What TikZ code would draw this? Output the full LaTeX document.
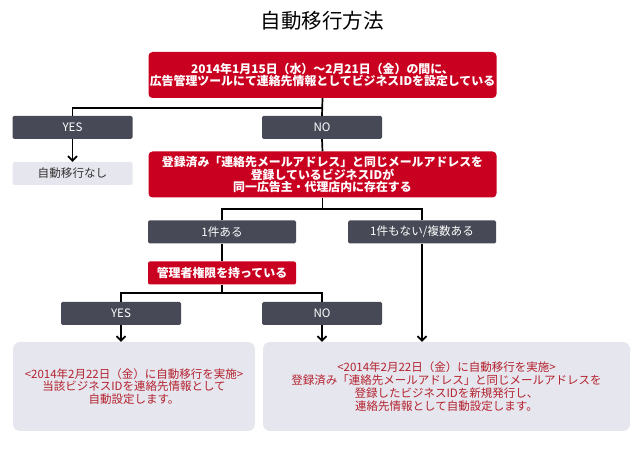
\documentclass[tikz,border=0pt]{standalone}
\usepackage{fontspec}
\setmainfont{Noto Sans CJK JP}
\usetikzlibrary{arrows.meta,calc}
\definecolor{ymred}{HTML}{C9001F}
\definecolor{dgray}{HTML}{474A56}
\definecolor{lgray}{HTML}{E6E6EE}
\definecolor{tred}{HTML}{B3222E}
\tikzset{
  redbox/.style={fill=ymred,rounded corners=4pt,text=white,align=center,inner sep=0pt,
    font=\fontsize{11.9}{12.6}\selectfont\bfseries},
  graybox/.style={fill=dgray,rounded corners=1.5pt,text=white,align=center,inner sep=0pt,
    minimum width=120pt,minimum height=23pt,font=\fontsize{11.6}{13}\selectfont},
  lightbox/.style={fill=lgray,rounded corners=2pt,text=black!80,align=center,inner sep=0pt,
    minimum width=120pt,minimum height=23pt,font=\fontsize{11.6}{13}\selectfont},
  resbox/.style={fill=lgray,rounded corners=7pt,text=tred,align=center,inner sep=0pt,
    minimum height=89pt,font=\fontsize{11.5}{12.8}\selectfont},
  conn/.style={draw=black,line width=1.7pt},
  arr/.style={conn,-{Straight Barb[length=4.5pt,width=9pt,line width=1.7pt]}},
}
\begin{document}
\begin{tikzpicture}[x=1pt,y=-1pt]
\useasboundingbox (0,0) rectangle (641,457);
\node (title) at (322,21) {\fontsize{20.5}{24}\selectfont 自動移行方法};
\node[redbox,minimum width=348pt,minimum height=46pt] (q1) at (322.5,75)
  {2014年1月15日（水）～2月21日（金）の間に、\\広告管理ツールにて連絡先情報としてビジネスIDを設定している};
\node[graybox] (yes1) at (72.5,127.5) {YES};
\node[graybox] (no1) at (322,127.5) {NO};
\node[lightbox] (none) at (72.5,173.5) {自動移行なし};
\node[redbox,minimum width=348pt,minimum height=46pt] (q2) at (322.5,174.5)
  {登録済み「連絡先メールアドレス」と同じメールアドレスを\\登録しているビジネスIDが\\同一広告主・代理店内に存在する};
\node[graybox,minimum width=148pt] (one) at (222,232) {1件ある};
\node[graybox,minimum width=148pt] (many) at (422,232) {1件もない/複数ある};
\node[redbox,minimum width=148pt,minimum height=23pt,rounded corners=2pt] (q3) at (222,273) {管理者権限を持っている};
\node[graybox] (yes2) at (121,313.5) {YES};
\node[graybox] (no2) at (322,313.5) {NO};
\node[resbox,minimum width=242pt] (res1) at (134,386.5)
  {<2014年2月22日（金）に自動移行を実施>\\当該ビジネスIDを連絡先情報として\\自動設定します。};
\node[resbox,minimum width=367pt] (res2) at (446.5,386.5)
  {<2014年2月22日（金）に自動移行を実施>\\登録済み「連絡先メールアドレス」と同じメールアドレスを\\登録したビジネスIDを新規発行し、\\連絡先情報として自動設定します。};
% connectors
\coordinate (j1) at ($(q1.south)+(0,10)$);
\draw[conn] (q1.south) -- (no1.north);
\draw[conn] (j1) -| (yes1.north);
\draw[arr] (yes1.south) -- (none.north);
\draw[conn] (no1.south) -- (q2.north);
\coordinate (j2) at ($(q2.south)+(0,11)$);
\draw[conn] (q2.south) -- (j2);
\draw[conn] (one.north) |- (j2) -| (many.north);
\draw[conn] (one.south) -- (q3.north);
\coordinate (j3) at ($(q3.south)+(0,8)$);
\draw[conn] (q3.south) -- (j3);
\draw[conn] (yes2.north) |- (j3) -| (no2.north);
\draw[arr] (yes2.south) -- (yes2.south |- res1.north);
\draw[arr] (no2.south) -- (no2.south |- res2.north);
\draw[arr] (many.south) -- (many.south |- res2.north);
\end{tikzpicture}
\end{document}
